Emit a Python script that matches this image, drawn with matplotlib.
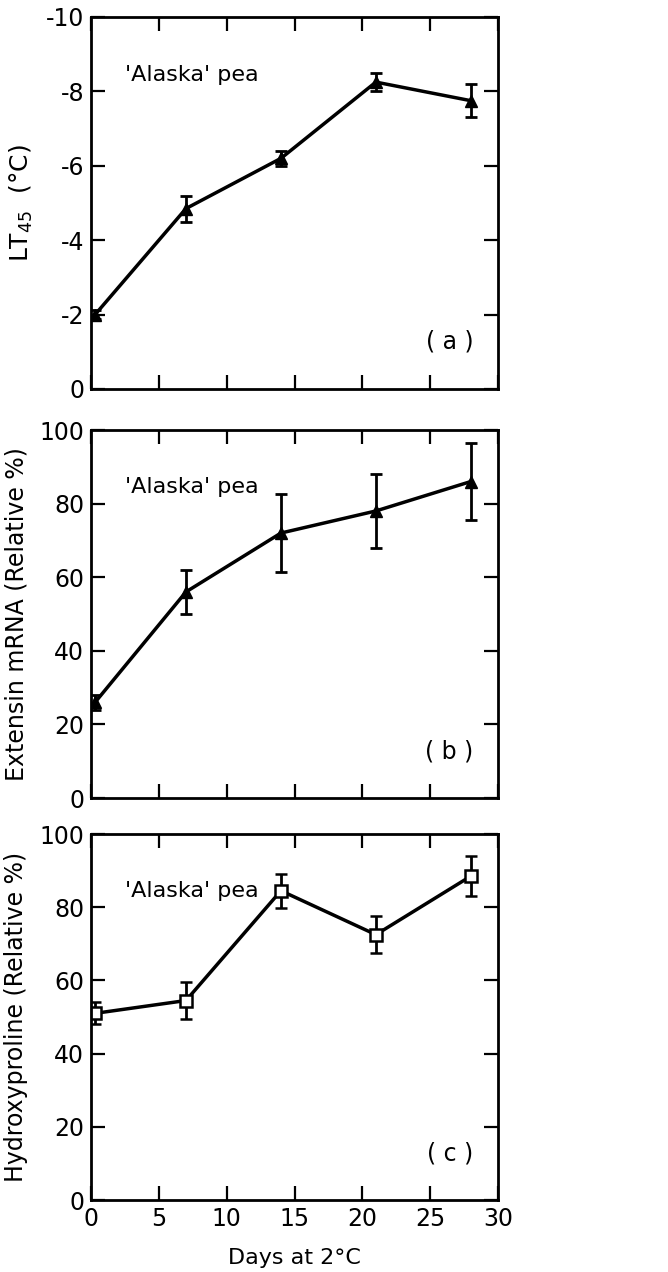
import numpy as np
import matplotlib
matplotlib.use('Agg')
from matplotlib import pyplot as plt

plt.rcParams['font.family'] = ['DejaVu Sans']
plt.rcParams['axes.unicode_minus'] = False

# days at 2 C
days = [0.3, 7, 14, 21, 28]

# (a) LT45
lt45 = [-2.0, -4.85, -6.2, -8.25, -7.75]
lt45_err = [0.12, 0.35, 0.2, 0.25, 0.45]

# (b) extensin mRNA
mrna = [26, 56, 72, 78, 86]
mrna_err = [2, 6, 10.5, 10, 10.5]

# (c) hydroxyproline
hyp = [51, 54.5, 84.5, 72.5, 88.5]
hyp_err = [3, 5, 4.7, 5, 5.5]

fig = plt.figure(figsize=(6.68, 12.72), dpi=100)

W, H = 668, 1272
left, right = 91, 498
boxes = [(17, 389), (430, 798), (834, 1200)]


def make_ax(top, bottom):
    ax = fig.add_axes([left / W, 1 - bottom / H, (right - left) / W, (bottom - top) / H])
    for s in ax.spines.values():
        s.set_linewidth(2)
    ax.tick_params(direction='in', length=10, width=1.6, top=True, right=True,
                   labelsize=17, pad=5)
    ax.set_xlim(0, 30)
    ax.set_xticks(np.arange(0, 31, 5))
    return ax


def annotate(ax, tag):
    ax.text(2.5, 0.845, "'Alaska' pea", transform=ax.get_xaxis_transform(),
            fontsize=16, va='center')
    ax.text(0.94, 0.127, tag, transform=ax.transAxes, fontsize=17,
            ha='right', va='center')


# panel a
ax1 = make_ax(*boxes[0])
ax1.errorbar(days, lt45, yerr=lt45_err, color='black', lw=2.5, marker='^', ms=9,
             ecolor='black', elinewidth=2, capsize=4, capthick=2)
ax1.set_ylim(0, -10)
ax1.set_yticks(np.arange(0, -11, -2))
ax1.set_yticklabels(['0', '-2', '-4', '-6', '-8', '-10'])
ax1.tick_params(labelbottom=False)
ax1.set_ylabel(r'LT$_{45}$  (°C)', fontsize=18, labelpad=8)
annotate(ax1, '( a )')

# panel b
ax2 = make_ax(*boxes[1])
ax2.errorbar(days, mrna, yerr=mrna_err, color='black', lw=2.5, marker='^', ms=9,
             ecolor='black', elinewidth=2, capsize=4, capthick=2)
ax2.set_ylim(0, 100)
ax2.set_yticks(np.arange(0, 101, 20))
ax2.tick_params(labelbottom=False)
ax2.set_ylabel('Extensin mRNA (Relative %)', fontsize=17, labelpad=8)
annotate(ax2, '( b )')

# panel c
ax3 = make_ax(*boxes[2])
ax3.errorbar(days, hyp, yerr=hyp_err, color='black', lw=2.5, marker='s', ms=8,
             mfc='white', mec='black', mew=1.8,
             ecolor='black', elinewidth=2, capsize=4, capthick=2)
ax3.set_ylim(0, 100)
ax3.set_yticks(np.arange(0, 101, 20))
ax3.set_ylabel('Hydroxyproline (Relative %)', fontsize=17, labelpad=8)
ax3.set_xlabel('Days at 2°C', fontsize=16, labelpad=12)
annotate(ax3, '( c )')

fig.savefig('out.png', dpi=100)
